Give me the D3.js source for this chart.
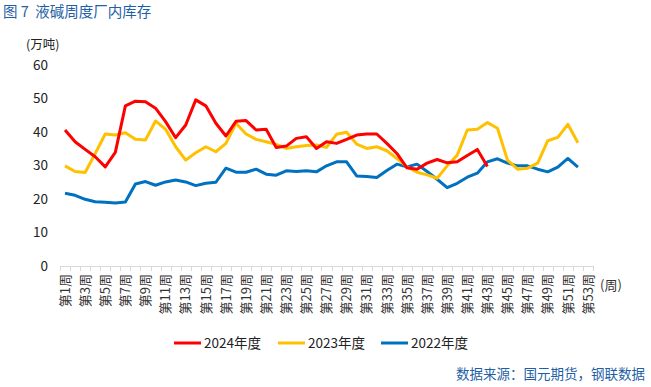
<!DOCTYPE html>
<html>
<head>
<meta charset="utf-8">
<script src="https://cdn.jsdelivr.net/npm/d3@7"></script>
<style>
  body { margin: 0; background: #fff; }
  svg { font-family: "Noto Sans CJK SC", "Noto Sans", sans-serif; }
</style>
</head>
<body>
<svg id="canvas" width="651" height="387"></svg>
<script>
// Weeks on the x axis
const weeks = d3.range(1, 54).map((i) => `第${i}周`);

// Series values (万吨), one per week
const y2024 = [40.6, 37.1, 34.8, 32.6, 29.6, 33.9, 47.8, 49.2, 49.0, 47.1,
  43.1, 38.3, 42.1, 49.6, 47.8, 42.6, 38.8, 43.2, 43.4, 40.6,
  40.8, 35.4, 35.8, 38.1, 38.6, 35.1, 37.1, 36.6, 37.8, 39.1,
  39.4, 39.4, 36.6, 33.6, 29.3, 28.9, 30.7, 31.8, 30.8, 31.1,
  33.0, 34.8, 29.7];
const y2023 = [29.9, 28.2, 27.9, 33.6, 39.4, 39.1, 39.8, 37.8, 37.6, 43.3,
  40.8, 35.6, 31.6, 33.8, 35.6, 34.1, 36.6, 42.6, 39.4, 37.8,
  37.1, 36.3, 35.1, 35.6, 36.0, 36.1, 35.4, 39.3, 39.9, 36.4,
  35.1, 35.6, 34.4, 32.1, 29.6, 28.0, 27.2, 26.2, 29.9, 33.1,
  40.6, 40.8, 42.8, 41.1, 31.6, 28.9, 29.2, 30.7, 37.4, 38.4,
  42.3, 36.8];
const y2022 = [21.7, 21.1, 19.9, 19.2, 19.0, 18.8, 19.1, 24.5, 25.2, 24.1,
  25.1, 25.7, 25.1, 24.0, 24.7, 25.0, 29.2, 28.0, 28.0, 28.9,
  27.4, 27.1, 28.4, 28.2, 28.4, 28.1, 29.9, 31.1, 31.1, 26.9,
  26.7, 26.4, 28.5, 30.4, 29.6, 30.4, 28.2, 25.9, 23.4, 24.7,
  26.5, 27.7, 31.1, 32.0, 30.7, 29.9, 29.9, 28.9, 28.1, 29.5,
  32.1, 29.5];

const seriesNames = ["2024年度", "2023年度", "2022年度"];
const seriesColors = ["#FF0000", "#FFC000", "#0070C0"];
const yTicks = [0, 10, 20, 30, 40, 50, 60];

const svg = d3.select("#canvas");
const [pl, pr, pt, pb] = [60, 593, 65, 266];

const x = d3.scaleBand().domain(weeks).range([pl, pr]).padding(0);
const y = d3.scaleLinear().domain([0, 60]).range([pb, pt]);

// Title
svg.append("text")
  .attr("x", 3).attr("y", 17)
  .attr("fill", "#1F5FA6")
  .attr("font-size", 14.5)
  .text("图 7\u00a0 液碱周度厂内库存");

// Unit
svg.append("text")
  .attr("x", 26).attr("y", 49)
  .attr("font-size", 12.5)
  .attr("fill", "#222")
  .text("(万吨)");

// Y axis labels (no axis line)
svg.append("g")
  .selectAll("text")
  .data(yTicks)
  .enter()
  .append("text")
  .attr("x", 48)
  .attr("y", (d) => y(d))
  .attr("dy", "0.36em")
  .attr("text-anchor", "end")
  .attr("font-size", 13.5)
  .attr("fill", "#222")
  .text((d) => d);

// X axis line and ticks at band edges
const xAxis = svg.append("g");
xAxis.append("line")
  .attr("x1", pl).attr("x2", pr)
  .attr("y1", pb + 0.5).attr("y2", pb + 0.5)
  .attr("stroke", "#d9d9d9");
xAxis.selectAll(".tick")
  .data(d3.range(weeks.length + 1))
  .enter()
  .append("line")
  .attr("x1", (i) => Math.round(pl + i * x.step()) + 0.5)
  .attr("x2", (i) => Math.round(pl + i * x.step()) + 0.5)
  .attr("y1", pb)
  .attr("y2", pb + 5)
  .attr("stroke", "#d9d9d9");

// Rotated week labels (every other week)
xAxis.selectAll(".lbl")
  .data(weeks.filter((d, i) => i % 2 === 0))
  .enter()
  .append("text")
  .attr("transform", (d) => `translate(${x(d) + x.bandwidth() / 2}, 274) rotate(-90)`)
  .attr("dy", "0.36em")
  .attr("text-anchor", "end")
  .attr("font-size", 13)
  .attr("fill", "#333")
  .text((d) => d);

svg.append("text")
  .attr("x", 600).attr("y", 290)
  .attr("font-size", 13)
  .attr("fill", "#333")
  .text("(周)");

// Lines
const line = d3.line()
  .x((d, i) => x(weeks[i]) + x.bandwidth() / 2)
  .y((d) => y(d));

const lineG = svg.append("g");
// draw 2022 first, 2024 last so red sits on top
[2, 1, 0].forEach((k) => {
  const vals = [y2024, y2023, y2022][k];
  lineG.append("path")
    .datum(vals)
    .attr("fill", "none")
    .attr("stroke", seriesColors[k])
    .attr("stroke-width", 3)
    .attr("stroke-linejoin", "round")
    .attr("d", line);
});

// Legend
const legendX = [174, 278, 381];
const legend = svg.append("g")
  .selectAll("g")
  .data(seriesNames)
  .enter()
  .append("g")
  .attr("transform", (d, i) => `translate(${legendX[i]}, 343)`);

legend.append("line")
  .attr("x1", 0).attr("x2", 27)
  .attr("stroke", (d, i) => seriesColors[i])
  .attr("stroke-width", 3);

legend.append("text")
  .attr("x", 30)
  .attr("dy", "0.36em")
  .attr("font-size", 13.5)
  .attr("fill", "#222")
  .text((d) => d);

// Source
svg.append("text")
  .attr("x", 645).attr("y", 379)
  .attr("text-anchor", "end")
  .attr("font-size", 13.5)
  .attr("fill", "#1F5FA6")
  .text("数据来源：国元期货，钢联数据");
</script>
</body>
</html>
